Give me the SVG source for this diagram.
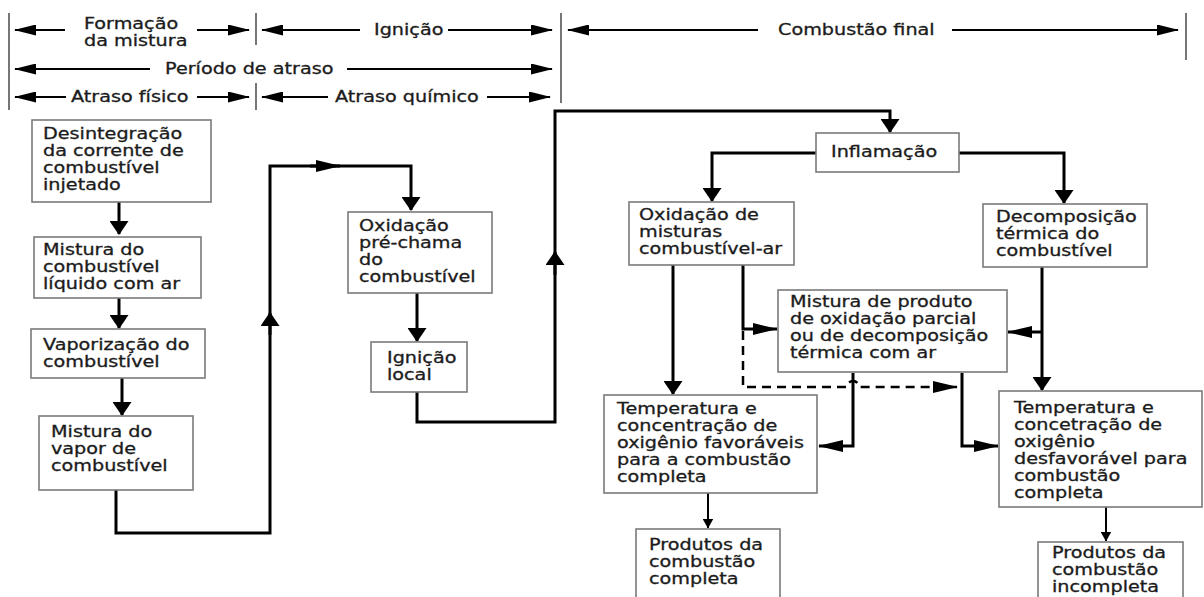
<svg xmlns="http://www.w3.org/2000/svg" width="1204" height="597" viewBox="0 0 1204 597">
<defs>
<style>
.t{font-family:"DejaVu Sans","Liberation Sans",sans-serif;font-size:15px;fill:#1c1c1c;stroke:#1c1c1c;stroke-width:0.3}
.box{fill:#fff;stroke:#7a7a7a;stroke-width:1.6}
.bar{stroke:#555;stroke-width:1.6;fill:none}
.ha{stroke:#000;stroke-width:2.2;fill:none;marker-end:url(#mt)}
.c{stroke:#000;stroke-width:3;fill:none;stroke-linejoin:miter}
.cv{marker-end:url(#mv)}
.ch{marker-end:url(#mh)}
.thin{stroke:#000;stroke-width:2;fill:none;marker-end:url(#ms)}
.dash{stroke:#000;stroke-width:2.5;fill:none;stroke-dasharray:9 6;marker-end:url(#mh)}
</style>
<marker id="mt" viewBox="0 0 22 11" refX="21" refY="5.5" markerWidth="22" markerHeight="11" markerUnits="userSpaceOnUse" orient="auto"><path d="M0,0 L22,5.5 L0,11 z" fill="#000"/></marker>
<marker id="mh" viewBox="0 0 25 12" refX="24" refY="6" markerWidth="25" markerHeight="12" markerUnits="userSpaceOnUse" orient="auto"><path d="M0,0 L25,6 L0,12 z" fill="#000"/></marker>
<marker id="mv" viewBox="0 0 14 19" refX="13" refY="9.5" markerWidth="14" markerHeight="19" markerUnits="userSpaceOnUse" orient="auto"><path d="M0,0 L14,9.5 L0,19 z" fill="#000"/></marker>
<marker id="ms" viewBox="0 0 10 11" refX="9.5" refY="5.5" markerWidth="10" markerHeight="11" markerUnits="userSpaceOnUse" orient="auto"><path d="M0,0 L10,5.5 L0,11 z" fill="#000"/></marker>
</defs>
<rect width="1204" height="597" fill="#fff"/>

<g id="timeline">
<path class="bar" d="M9,13 V110 M256,13 V45 M256,83 V110 M561,13 V103 M1186,13 V60"/>
<path class="ha" d="M65,30 H15"/>
<path class="ha" d="M197,30 H249"/>
<text class="t" transform="translate(84,29) scale(1.28,1)"><tspan x="0" y="0">Formação</tspan><tspan x="0" y="17">da mistura</tspan></text>
<path class="ha" d="M360,30 H262"/>
<text class="t" transform="translate(374,35) scale(1.28,1)">Ignição</text>
<path class="ha" d="M448,30 H552"/>
<path class="ha" d="M758,30 H568"/>
<text class="t" transform="translate(778,35) scale(1.28,1)">Combustão final</text>
<path class="ha" d="M952,30 H1178"/>
<path class="ha" d="M150,69 H15"/>
<text class="t" transform="translate(165,74) scale(1.28,1)">Período de atraso</text>
<path class="ha" d="M347,69 H552"/>
<path class="ha" d="M66,97 H15"/>
<text class="t" transform="translate(71,102) scale(1.28,1)">Atraso físico</text>
<path class="ha" d="M197,97 H249"/>
<path class="ha" d="M328,97 H262"/>
<text class="t" transform="translate(335,102) scale(1.28,1)">Atraso químico</text>
<path class="ha" d="M487,97 H550"/>
</g>

<g id="connectors">
<path class="c cv" d="M119,202 V234"/>
<path class="c cv" d="M119,298 V328"/>
<path class="c cv" d="M122,378 V415"/>
<path class="c cv" d="M116,490 V533 H270 V166 H411 V210"/>
<path class="c cv" d="M270,335 V313"/>
<path class="c ch" d="M310,166 H340"/>
<path class="c cv" d="M417,293 V341"/>
<path class="c cv" d="M417,392 V422 H555 V111 H890 V132"/>
<path class="c cv" d="M555,275 V252"/>
<path class="c cv" d="M816,153 H712 V201"/>
<path class="c cv" d="M959,153 H1064 V203"/>
<path class="c cv" d="M673,265 V394"/>
<path class="c ch" d="M743,265 V329 H777"/>
<path class="c cv" d="M1042,267 V390"/>
<path class="c ch" d="M1042,332 H1008"/>
<path class="c ch" d="M853,373 V446 H819"/>
<path class="c ch" d="M962,373 V446 H998"/>
<path class="dash" d="M743,331 V387 H847 A6,6 0 0 1 859,387 H957"/>
<path class="thin" d="M708,493 V528"/>
<path class="thin" d="M1106,507 V541"/>
</g>

<g id="n-desintegracao"><rect class="box" x="32" y="120" width="179" height="82"/>
<text class="t" transform="translate(43,139) scale(1.28,1)"><tspan x="0" y="0">Desintegração</tspan><tspan x="0" y="17">da corrente de</tspan><tspan x="0" y="34">combustível</tspan><tspan x="0" y="51">injetado</tspan></text></g>

<g id="n-mistura-liquido"><rect class="box" x="34" y="237" width="167" height="61"/>
<text class="t" transform="translate(43,255) scale(1.28,1)"><tspan x="0" y="0">Mistura do</tspan><tspan x="0" y="17">combustível</tspan><tspan x="0" y="34">líquido com ar</tspan></text></g>

<g id="n-vaporizacao"><rect class="box" x="31" y="329" width="174" height="49"/>
<text class="t" transform="translate(43,350) scale(1.28,1)"><tspan x="0" y="0">Vaporização do</tspan><tspan x="0" y="17">combustível</tspan></text></g>

<g id="n-mistura-vapor"><rect class="box" x="39" y="416" width="154" height="74"/>
<text class="t" transform="translate(51,437) scale(1.28,1)"><tspan x="0" y="0">Mistura do</tspan><tspan x="0" y="17">vapor de</tspan><tspan x="0" y="34">combustível</tspan></text></g>

<g id="n-oxidacao-pre"><rect class="box" x="348" y="212" width="144" height="81"/>
<text class="t" transform="translate(359,231) scale(1.28,1)"><tspan x="0" y="0">Oxidação</tspan><tspan x="0" y="17">pré-chama</tspan><tspan x="0" y="34">do</tspan><tspan x="0" y="51">combustível</tspan></text></g>

<g id="n-ignicao-local"><rect class="box" x="371" y="342" width="96" height="50"/>
<text class="t" transform="translate(387,363) scale(1.28,1)"><tspan x="0" y="0">Ignição</tspan><tspan x="0" y="17">local</tspan></text></g>

<g id="n-inflamacao"><rect class="box" x="816" y="133" width="143" height="39"/>
<text class="t" transform="translate(831,157) scale(1.28,1)">Inflamação</text></g>

<g id="n-oxidacao-misturas"><rect class="box" x="629" y="202" width="165" height="63"/>
<text class="t" transform="translate(639,220) scale(1.28,1)"><tspan x="0" y="0">Oxidação de</tspan><tspan x="0" y="17">misturas</tspan><tspan x="0" y="34">combustível-ar</tspan></text></g>

<g id="n-decomposicao"><rect class="box" x="983" y="204" width="164" height="63"/>
<text class="t" transform="translate(996,222) scale(1.28,1)"><tspan x="0" y="0">Decomposição</tspan><tspan x="0" y="17">térmica do</tspan><tspan x="0" y="34">combustível</tspan></text></g>

<g id="n-mistura-produto"><rect class="box" x="778" y="290" width="229" height="82"/>
<text class="t" transform="translate(790,307) scale(1.28,1)"><tspan x="0" y="0">Mistura de produto</tspan><tspan x="0" y="17">de oxidação parcial</tspan><tspan x="0" y="34">ou de decomposição</tspan><tspan x="0" y="51">térmica com ar</tspan></text></g>

<g id="n-temp-favoravel"><rect class="box" x="604" y="395" width="213" height="98"/>
<text class="t" transform="translate(617,414) scale(1.28,1)"><tspan x="0" y="0">Temperatura e</tspan><tspan x="0" y="17">concentração de</tspan><tspan x="0" y="34">oxigênio favoráveis</tspan><tspan x="0" y="51">para a combustão</tspan><tspan x="0" y="68">completa</tspan></text></g>

<g id="n-temp-desfavoravel"><rect class="box" x="999" y="391" width="203" height="116"/>
<text class="t" transform="translate(1014,413) scale(1.28,1)"><tspan x="0" y="0">Temperatura e</tspan><tspan x="0" y="17">concetração de</tspan><tspan x="0" y="34">oxigênio</tspan><tspan x="0" y="51">desfavorável para</tspan><tspan x="0" y="68">combustão</tspan><tspan x="0" y="85">completa</tspan></text></g>

<g id="n-produtos-completa"><rect class="box" x="636" y="529" width="144" height="80"/>
<text class="t" transform="translate(649,550) scale(1.28,1)"><tspan x="0" y="0">Produtos da</tspan><tspan x="0" y="17">combustão</tspan><tspan x="0" y="34">completa</tspan></text></g>

<g id="n-produtos-incompleta"><rect class="box" x="1038" y="542" width="145" height="70"/>
<text class="t" transform="translate(1052,558) scale(1.28,1)"><tspan x="0" y="0">Produtos da</tspan><tspan x="0" y="17">combustão</tspan><tspan x="0" y="34">incompleta</tspan></text></g>
</svg>
